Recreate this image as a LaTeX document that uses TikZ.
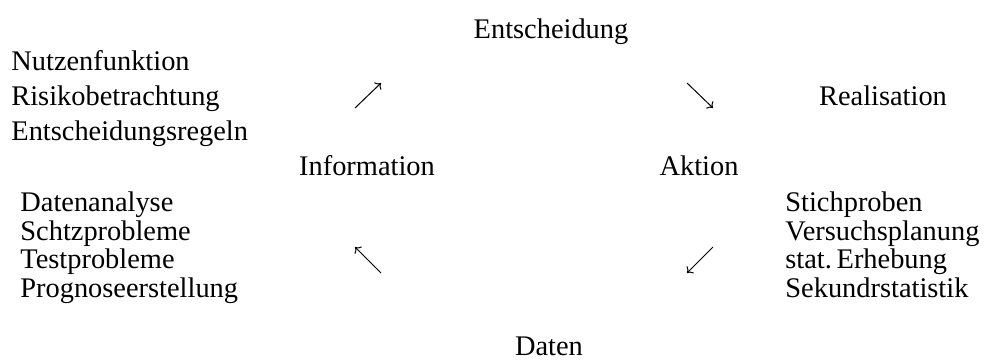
\documentclass[tikz,border=0pt]{standalone}
\usepackage{fontspec}
\setmainfont{Liberation Serif}
\usetikzlibrary{arrows.meta}

\begin{document}
\begin{tikzpicture}[x=0.5pt, y=-0.5pt, >={To[length=2.5pt, width=5pt]},
    lbl/.style={inner sep=0pt, font=\fontsize{14.2}{14.2}\selectfont},
    liste/.style={lbl, align=left, anchor=base west}]
  \useasboundingbox (0,0) rectangle (984,361);

  % Stages of the cycle
  \node[lbl, anchor=base] (entscheidung) at (551,38) {Entscheidung};
  \node[lbl, anchor=base] (realisation) at (883,105) {Realisation};
  \node[lbl, anchor=base] (information) at (367,175) {Information};
  \node[lbl, anchor=base] (aktion) at (699,175) {Aktion};
  \node[lbl, anchor=base] (daten) at (549,355) {Daten};

  % Lists (anchored at the baseline of the last line)
  \node[liste, font=\fontsize{14.2}{17.5}\selectfont] (ziele) at (11,140)
    {Nutzenfunktion\\ Risikobetrachtung\\ Entscheidungsregeln};
  \node[liste] (analyse) at (20,297)
    {Datenanalyse\\ Schtzprobleme\\ Testprobleme\\ Prognoseerstellung};
  \node[liste] (erhebung) at (785,297)
    {Stichproben\\ Versuchsplanung\\ stat.\,Erhebung\\ Sekundrstatistik};

  % Arrows
  \coordinate (a1) at (355,108); \coordinate (b1) at (381,83);
  \coordinate (a2) at (687,83);  \coordinate (b2) at (713,108);
  \coordinate (a3) at (713,247); \coordinate (b3) at (687,273);
  \coordinate (a4) at (381,273); \coordinate (b4) at (355,247);
  \draw[->, line width=0.5pt] (a1) -- (b1);
  \draw[->, line width=0.5pt] (a2) -- (b2);
  \draw[->, line width=0.5pt] (a3) -- (b3);
  \draw[->, line width=0.5pt] (a4) -- (b4);
\end{tikzpicture}
\end{document}
